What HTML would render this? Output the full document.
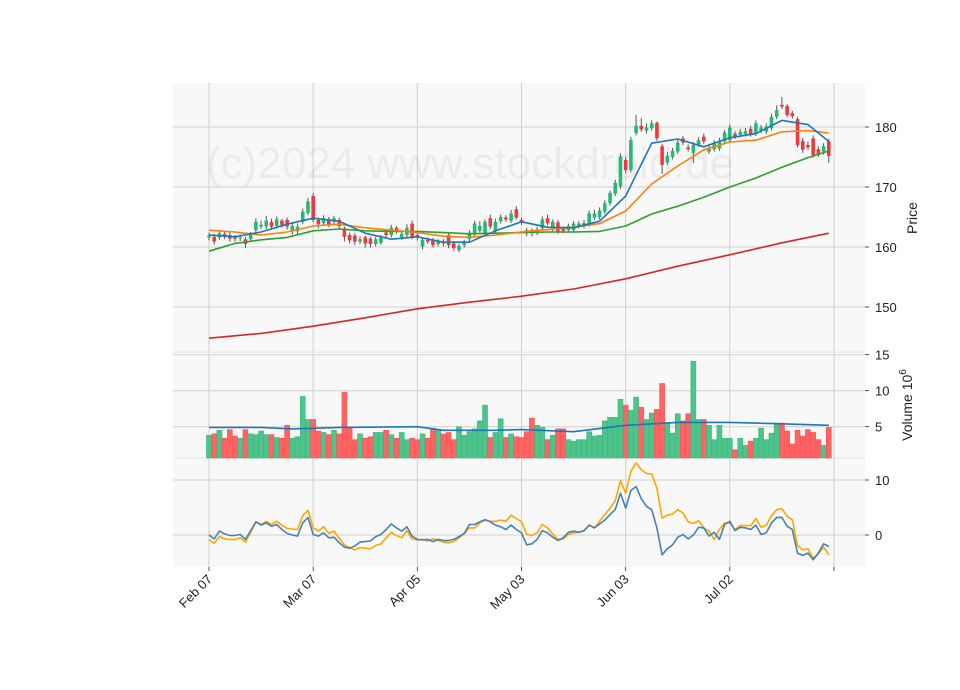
<!DOCTYPE html>
<html><head><meta charset="utf-8"><style>
html,body{margin:0;padding:0;background:#fff;}
svg{display:block;font-family:"Liberation Sans","DejaVu Sans",sans-serif;}
</style></head><body>
<svg id="chart" width="960" height="690" viewBox="0 0 960 690" xmlns="http://www.w3.org/2000/svg"></svg>
<script>
const opens=[161.6,161.7,161.6,162.2,162.0,161.7,161.5,161.3,161.3,162.8,163.4,163.4,164.2,163.5,164.4,164.5,162.7,162.6,164.2,165.7,168.5,164.5,164.0,164.6,164.2,164.5,163.1,162.0,161.9,160.9,161.6,161.4,160.5,160.7,162.4,162.0,163.2,161.6,162.0,163.9,162.0,160.1,161.2,161.2,160.5,160.9,162.0,160.6,159.5,160.3,161.3,162.3,162.7,162.3,164.8,162.6,164.3,164.9,164.4,166.3,164.5,162.8,162.8,162.4,163.1,164.8,163.4,164.1,163.1,162.8,162.8,163.5,163.5,163.8,164.9,165.0,165.9,167.3,168.9,170.1,174.5,172.8,179.0,180.2,179.4,179.8,180.7,176.8,174.1,175.0,175.9,178.1,176.6,175.7,177.1,178.4,175.9,176.3,176.4,177.6,177.8,178.9,178.7,178.8,179.7,178.9,179.4,179.2,179.8,181.7,183.7,183.5,182.3,181.3,177.7,177.0,178.1,176.3,175.9,177.6];
const closes=[161.9,160.9,162.3,161.7,161.4,161.4,161.6,160.5,162.0,164.2,163.7,164.4,163.4,164.6,163.7,163.4,163.5,163.4,165.9,167.6,164.5,163.8,164.8,163.7,164.8,163.5,161.7,161.1,160.9,161.3,160.6,160.5,161.3,161.5,162.0,163.2,162.6,162.2,163.2,161.7,161.6,161.2,160.9,160.3,160.9,160.6,160.3,159.8,160.2,160.8,162.4,163.9,163.5,164.2,163.4,164.2,165.0,164.6,165.6,164.9,164.1,162.3,162.3,162.9,164.6,164.0,164.2,162.6,162.7,163.5,163.9,163.9,164.0,165.6,165.6,166.1,167.3,169.0,170.7,175.1,172.8,177.8,180.2,179.6,179.9,180.6,178.1,173.7,175.2,176.0,177.4,177.4,176.3,177.0,177.8,177.6,176.4,177.4,177.6,179.1,179.9,178.4,179.2,179.3,178.8,180.6,179.9,180.1,181.7,182.8,183.4,182.0,181.8,177.0,176.2,176.6,175.3,175.5,176.8,175.2];
const highs=[162.4,162.2,162.8,162.6,162.5,162.0,162.1,161.7,162.5,164.8,164.4,165.2,164.7,165.1,164.7,164.9,164.0,163.9,166.4,168.2,169.0,164.9,165.3,165.0,165.2,164.9,163.4,162.4,162.3,161.8,161.9,161.7,161.7,162.0,162.8,163.7,163.5,162.8,163.8,164.4,162.4,161.6,161.6,161.5,161.3,161.3,162.3,161.0,160.5,161.2,162.8,164.4,164.3,164.6,165.4,164.7,165.4,165.3,166.2,166.8,164.9,163.2,163.1,163.4,165.1,165.4,164.6,164.5,163.4,163.9,164.3,164.3,164.5,166.1,166.2,166.6,167.8,169.4,171.2,175.6,175.0,178.3,182.0,181.5,180.6,181.1,180.9,177.2,175.8,176.5,177.9,178.5,177.1,177.5,178.3,178.9,177.0,177.8,178.2,179.5,180.4,179.3,179.7,179.8,180.2,181.1,180.3,180.6,182.2,183.6,185.0,183.8,182.7,181.7,178.2,177.6,178.6,176.8,177.3,178.0];
const lows=[161.1,160.4,161.2,161.3,160.9,160.9,161.0,159.8,160.9,162.3,163.0,163.0,162.9,163.1,163.2,162.9,162.1,162.1,163.8,165.3,164.1,163.1,163.5,163.3,163.8,163.0,160.9,160.6,160.3,160.5,159.9,159.9,160.1,160.4,161.6,161.6,162.2,161.2,161.6,161.3,161.1,159.6,160.5,159.9,160.1,160.1,159.8,159.4,159.1,159.9,160.9,161.8,162.4,161.8,163.0,162.2,163.9,164.2,164.0,164.6,163.7,161.8,161.8,162.0,162.7,163.6,162.6,162.2,162.3,162.4,162.4,163.1,163.1,163.4,164.5,164.6,165.5,166.9,168.5,169.7,172.3,172.4,178.6,179.2,178.9,179.4,177.7,172.2,173.7,174.6,175.5,177.0,175.9,174.0,176.7,177.2,175.5,175.9,176.0,177.2,177.4,178.0,178.3,178.4,178.4,178.5,179.0,178.8,179.4,181.3,183.0,181.6,181.4,176.6,175.7,176.2,174.9,175.0,175.4,174.0];
const volumes=[3.8,4.0,4.5,3.4,4.6,3.7,3.4,4.6,4.0,3.9,4.4,3.9,3.9,3.5,3.4,5.2,3.4,3.6,9.2,6.0,6.0,4.4,4.2,3.9,4.5,4.0,9.8,4.8,3.2,4.0,3.4,3.6,4.2,4.2,4.5,3.9,3.4,4.2,3.2,3.4,3.2,4.0,3.4,4.8,4.6,4.0,4.2,3.2,5.0,3.8,4.3,4.7,5.8,8.0,3.5,4.2,6.1,3.5,4.0,3.6,3.5,4.3,6.2,5.2,4.9,3.2,3.8,4.7,4.7,3.2,3.0,3.2,3.2,4.3,3.7,3.8,5.8,6.3,6.3,8.8,8.0,7.3,9.1,7.7,6.0,6.9,7.4,11.0,5.5,4.1,6.8,5.8,6.8,14.1,6.0,6.0,5.2,3.2,5.2,3.4,3.4,1.8,3.4,2.4,3.0,3.4,4.8,3.2,4.1,5.5,5.5,4.4,2.6,4.5,3.7,4.6,4.2,3.2,2.4,4.9];
const maIdx=[0,5,10,15,20,25,30,35,40,45,50,55,60,65,70,75,80,85,90,95,100,105,110,115,119];
const maBlue=[162.0,161.7,162.5,163.8,164.8,164.3,162.3,161.3,161.7,160.8,160.8,162.7,164.2,163.3,163.2,164.3,168.5,177.3,178.0,176.7,178.2,178.9,181.1,180.4,177.6];
const maOrange=[162.8,162.5,162.0,162.5,163.5,163.8,163.2,162.8,162.4,161.8,161.6,162.0,162.5,162.9,163.3,163.9,166.0,170.5,173.5,176.2,177.5,177.8,179.2,179.4,179.0];
const maGreen=[159.3,160.6,161.2,161.6,162.7,163.0,162.7,162.6,162.6,162.4,162.2,162.3,162.4,162.5,162.5,162.6,163.5,165.5,166.8,168.3,170.0,171.5,173.3,174.9,176.0];
const maRedIdx=[0,10,20,30,40,50,60,70,80,90,100,110,119];
const maRed=[144.8,145.6,146.8,148.2,149.7,150.8,151.8,153.0,154.7,156.8,158.7,160.7,162.3];
const volMaIdx=[0,10,16,25,40,45,55,60,70,80,90,100,105,110,119];
const volMa=[4.9,4.9,4.7,4.9,5.0,4.5,4.5,4.6,4.3,5.2,5.6,5.6,5.5,5.4,5.2];
const indBlue=[0,-0.7,0.7,0.2,-0.1,-0.1,0.1,-0.8,0.8,2.4,1.8,2.2,1.6,1.9,1.0,0.3,0,-0.2,2.2,3.2,0.1,-0.2,0.4,-0.5,-0.4,-1.4,-2.2,-2.4,-2.0,-1.3,-1.2,-1.1,-0.3,0.1,1.0,2.0,1.3,0.7,1.5,-0.2,-0.8,-0.9,-0.8,-1.2,-0.8,-1.0,-1.0,-0.8,-0.3,0.3,1.9,1.9,2.4,2.8,2.4,1.8,1.5,1.0,1.8,1.0,0.4,-1.8,-1.6,-0.8,0.8,0.4,-0.4,-1.0,-0.5,0.5,0.7,0.5,0.8,1.8,1.3,2.0,2.7,3.7,4.6,7.6,4.9,8.1,8.8,6.6,5.2,4.6,1.3,-3.6,-2.5,-1.8,-0.4,0.1,-0.7,0,1.4,1.3,-0.2,0.5,-0.8,1.9,2.5,0.8,1.4,1.3,1.0,1.8,0.1,0.4,2.2,3.2,3.2,1.6,1.0,-3.3,-3.7,-3.3,-4.5,-3.3,-1.6,-2.1];
const indOrange=[-0.8,-1.5,-0.3,-0.7,-0.8,-0.8,-0.5,-1.3,0.5,2.4,1.9,2.5,1.9,2.5,1.8,1.2,1.1,1.0,3.5,4.5,1.3,0.7,1.5,0.3,0.7,-0.6,-1.8,-2.3,-2.7,-2.3,-2.4,-2.5,-1.9,-1.6,-0.5,0.5,-0.1,-0.5,0.8,-0.7,-0.9,-0.8,-1.1,-0.7,-1.0,-1.3,-1.4,-1.2,-0.5,0.2,1.3,1.3,2.2,2.7,2.5,2.5,2.7,2.5,3.6,3.0,2.4,0.1,-0.1,0.4,1.9,1.3,0.2,-0.8,-0.7,0.1,0.4,0.5,0.7,1.8,1.3,2.5,3.7,4.9,6.2,9.9,7.6,11.6,13.1,11.9,11.2,11.1,8.5,3.1,3.6,3.8,4.6,4.0,2.4,2.1,2.6,1.3,0.7,-0.8,1.0,2.2,2.2,1.0,1.7,1.7,1.7,3.0,1.4,1.8,3.5,4.6,4.8,3.4,2.8,-1.9,-2.7,-2.5,-4.2,-3.4,-2.2,-3.6];
const tickIdx=[0,20,40,60,80,100,120];
const tickLabels=["Feb 07","Mar 07","Apr 05","May 03","Jun 03","Jul 02",""];
const priceTicks=[150,160,170,180];
const volTicks=[5,10,15];
const indTicks=[0,10];

const svg=document.getElementById('chart');
const NS='http://www.w3.org/2000/svg';
function mk(tag,attrs,parent){const e=document.createElementNS(NS,tag);for(const k in attrs)e.setAttribute(k,attrs[k]);(parent||svg).appendChild(e);return e;}
const L=173,R=865;
const x=i=>209+i*5.2083;
const yP=v=>127+(180-v)*6;
const yV=v=>462.7-v*7.2;
const yI=v=>535-v*5.5;
const panels=[[83,352,'price-panel'],[352,458,'volume-panel'],[458,567,'indicator-panel']];
panels.forEach(p=>{const r=mk('rect',{x:L,y:p[0],width:R-L,height:p[1]-p[0],fill:'#f8f8f8'});});
function hgrid(y){mk('line',{x1:L,x2:R,y1:y,y2:y,stroke:'#d0d0d0','stroke-width':1});}
tickIdx.forEach(i=>{const l=mk('line',{x1:x(i),x2:x(i),y1:83,y2:567,stroke:'#d0d0d0','stroke-width':1});});
priceTicks.forEach(v=>hgrid(yP(v)));volTicks.forEach(v=>hgrid(yV(v)));indTicks.forEach(v=>hgrid(yI(v)));
[352,458].forEach(y=>mk('line',{x1:L,x2:R,y1:y,y2:y,stroke:'#e6e6e6','stroke-width':1}));
const wm=mk('text',{x:206,y:178,'font-size':44,fill:'#000','fill-opacity':0.05});wm.textContent='(c)2024 www.stockdroid.de';

function pline(idx,vals,fy,color,w,name){const pts=idx.map((i,k)=>x(i).toFixed(1)+','+fy(vals[k]).toFixed(1)).join(' ');const e=mk('polyline',{points:pts,fill:'none',stroke:color,'stroke-width':w,'stroke-linejoin':'round'});}
pline(maRedIdx,maRed,yP,'#d62728',1.6,'ma-red-line');
const g=mk('g',{});
opens.forEach((o,i)=>{const c=closes[i];const up=c>=o;const col=up?'#26b874':'#f0393c';
 mk('line',{x1:x(i),x2:x(i),y1:yP(highs[i]),y2:yP(lows[i]),stroke:'#555','stroke-width':1},g);
 const top=yP(Math.max(o,c)),h=Math.max(1,yP(Math.min(o,c))-top);
 const b=mk('rect',{x:x(i)-1.8,y:top,width:3.6,height:h,fill:col},g);
 
 });
pline(maIdx,maGreen,yP,'#2ca02c',1.6,'ma-green-line');
pline(maIdx,maOrange,yP,'#ff7f0e',1.6,'ma-orange-line');
pline(maIdx,maBlue,yP,'#1f77b4',1.6,'ma-blue-line');
volumes.forEach((v,i)=>{const up=closes[i]>=opens[i];const t=yV(v);
 const b=mk('rect',{x:x(i)-2.5,y:t,width:5,height:458-t,fill:up?'#4cc48c':'#ff6464',stroke:up?'#3cb87c':'#ff5050','stroke-width':0.6});
 
 });
pline(volMaIdx,volMa,yV,'#1f77b4',1.6,'volume-ma-line');
const allIdx=indBlue.map((_,i)=>i);
pline(allIdx,indOrange,yI,'#ffa500',1.6,'indicator-orange-line');
pline(allIdx,indBlue,yI,'#4682b4',1.6,'indicator-blue-line');
function ytick(y,label,name){mk('line',{x1:R,x2:R+4,y1:y,y2:y,stroke:'#222','stroke-width':0.8});const t=mk('text',{x:R+10,y:y+5,'font-size':13,fill:'#222'});t.textContent=label;}
priceTicks.forEach(v=>ytick(yP(v),v,'price-tick-label'));
volTicks.forEach(v=>ytick(yV(v),v,'volume-tick-label'));
indTicks.forEach(v=>ytick(yI(v),v,'indicator-tick-label'));
tickIdx.forEach((i,k)=>{mk('line',{x1:x(i),x2:x(i),y1:567,y2:571,stroke:'#222','stroke-width':0.8});
 if(tickLabels[k]){const t=mk('text',{x:x(i)+4,y:580,'font-size':13,fill:'#222','text-anchor':'end',transform:`rotate(-45 ${x(i)+4} 580)`});t.textContent=tickLabels[k];}});
const pl=mk('text',{x:917,y:218,'font-size':14,fill:'#222','text-anchor':'middle',transform:'rotate(-90 917 218)'});pl.textContent='Price';
const vl=mk('text',{x:912,y:405,'font-size':14,fill:'#222','text-anchor':'middle',transform:'rotate(-90 912 405)'});vl.innerHTML='Volume  10<tspan dy="-6" font-size="10">6</tspan>';
</script>
</body></html>
